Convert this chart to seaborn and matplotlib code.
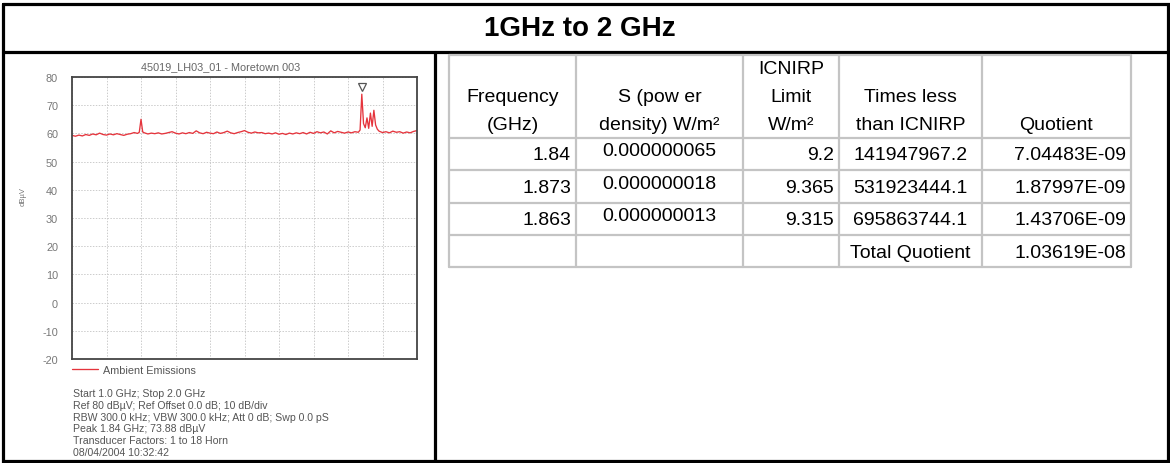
import matplotlib
matplotlib.use("Agg")
import matplotlib.pyplot as plt
import matplotlib.transforms as mtransforms
import pandas as pd
import seaborn as sns

# ---------------- data ----------------
page_title = "1GHz to 2 GHz"
chart_title = "45019_LH03_01 - Moretown 003"
series_name = "Ambient Emissions"
y_label = "dBµV"

freq_ghz = [1.00, 1.01, 1.02, 1.03, 1.04, 1.05, 1.06, 1.07, 1.08, 1.09,
            1.10, 1.11, 1.12, 1.13, 1.14, 1.15, 1.16, 1.17, 1.18, 1.19,
            1.195, 1.20, 1.205, 1.21, 1.22, 1.23, 1.24, 1.25, 1.26, 1.27,
            1.28, 1.29, 1.30, 1.31, 1.32, 1.33, 1.34, 1.35, 1.36, 1.37,
            1.38, 1.39, 1.40, 1.41, 1.42, 1.43, 1.44, 1.45, 1.46, 1.47,
            1.48, 1.49, 1.50, 1.51, 1.52, 1.53, 1.54, 1.55, 1.56, 1.57,
            1.58, 1.59, 1.60, 1.61, 1.62, 1.63, 1.64, 1.65, 1.66, 1.67,
            1.68, 1.69, 1.70, 1.71, 1.72, 1.73, 1.74, 1.75, 1.76, 1.77,
            1.78, 1.79, 1.80, 1.81, 1.82, 1.83, 1.835, 1.84, 1.845, 1.85,
            1.855, 1.86, 1.865, 1.87, 1.875, 1.88, 1.885, 1.89, 1.90, 1.91,
            1.92, 1.93, 1.94, 1.95, 1.96, 1.97, 1.98, 1.99, 2.00]
level_dbuv = [59.3, 59.0, 59.4, 59.1, 59.6, 59.3, 59.8, 59.5, 60.1, 59.6,
              59.4, 59.8, 59.5, 59.9, 59.6, 59.3, 59.7, 59.9, 60.3, 60.0,
              60.4, 65.0, 60.5, 60.2, 59.8, 60.1, 59.9, 60.2, 59.8, 60.0,
              60.3, 60.6, 60.1, 59.8, 60.2, 59.9, 60.3, 60.0, 60.9, 60.2,
              59.9, 60.4, 60.1, 59.9, 60.5, 60.0, 60.3, 60.8, 60.2, 59.9,
              60.3, 60.6, 61.0, 60.4, 60.1, 60.5, 60.2, 60.3, 59.9, 60.1,
              59.8, 60.2, 59.7, 60.0, 59.6, 60.1, 59.8, 60.2, 59.9, 60.3,
              59.8, 60.4, 60.0, 60.6, 60.2, 60.5, 59.8, 60.9, 60.2, 60.7,
              60.4, 60.1, 60.5, 60.2, 60.6, 60.4, 61.2, 73.9, 63.5, 62.0,
              65.5, 61.8, 67.2, 62.5, 68.2, 63.0, 61.5, 60.8, 60.3, 60.6,
              60.2, 60.8, 60.4, 60.6, 60.1, 60.5, 60.2, 60.7, 61.0]
peak_freq = 1.84
peak_level = 73.88
x_ticks = [1.0, 1.1, 1.2, 1.3, 1.4, 1.5, 1.6, 1.7, 1.8, 1.9, 2.0]
y_ticks = [-20, -10, 0, 10, 20, 30, 40, 50, 60, 70, 80]
info_lines = ["Start 1.0 GHz; Stop 2.0 GHz",
              "Ref 80 dBµV; Ref Offset 0.0 dB; 10 dB/div",
              "RBW 300.0 kHz; VBW 300.0 kHz; Att 0 dB; Swp 0.0 pS",
              "Peak 1.84 GHz; 73.88 dBµV",
              "Transducer Factors: 1 to 18 Horn",
              "08/04/2004 10:32:42"]

header_lines = [["Frequency", "(GHz)"],
                ["S (pow er", "density) W/m²"],
                ["ICNIRP", "Limit", "W/m²"],
                ["Times less", "than ICNIRP"],
                ["Quotient"]]
col_frequency = ["1.84", "1.873", "1.863", ""]
col_power = ["0.000000065", "0.000000018", "0.000000013", ""]
col_limit = ["9.2", "9.365", "9.315", ""]
col_times = ["141947967.2", "531923444.1", "695863744.1", "Total Quotient"]
col_quotient = ["7.04483E-09", "1.87997E-09", "1.43706E-09", "1.03619E-08"]

# ---------------- style ----------------
sns.set_style("white")
plt.rcParams["font.family"] = ["Liberation Sans", "DejaVu Sans"]

W, H = 1170, 464
fig = plt.figure(figsize=(W / 100, H / 100), dpi=100)
fig.patch.set_facecolor("white")


def fx(px):
    return px / W


def fy(py):
    return 1 - py / H


# ---------------- spectrum chart ----------------
ax_l, ax_r, ax_t, ax_b = 72, 417, 78, 360
ax = fig.add_axes([fx(ax_l), fy(ax_b), (ax_r - ax_l) / W, (ax_b - ax_t) / H])
df = pd.DataFrame({"freq": freq_ghz, "level": level_dbuv})
sns.lineplot(data=df, x="freq", y="level", color="#e5343c", linewidth=0.95,
             label=series_name, ax=ax)
marker_tr = mtransforms.offset_copy(ax.transData, fig=fig, x=0, y=7, units="dots")
ax.plot([peak_freq], [peak_level], marker="v", markersize=5.5,
        markerfacecolor="white", markeredgecolor="#555555",
        markeredgewidth=0.9, linestyle="none", transform=marker_tr)

ax.set_xlim(x_ticks[0], x_ticks[-1])
ax.set_ylim(y_ticks[0], y_ticks[-1])
ax.set_xticks(x_ticks)
ax.set_xticklabels([])
ax.set_yticks(y_ticks)
ax.set_yticklabels([str(v) for v in y_ticks], fontsize=7.8, color="#777777")
ax.tick_params(axis="both", length=0, pad=10)
ax.grid(True, linestyle=(0, (1.5, 1.5)), color="#cccccc", linewidth=0.7)
ax.set_xlabel("")
ax.set_ylabel(y_label, fontsize=5.5, color="#777777")
ax.yaxis.set_label_coords(-45 / (ax_r - ax_l), (ax_b - 197) / (ax_b - ax_t))
for sp in ax.spines.values():
    sp.set_color("#444444")
    sp.set_linewidth(1.3)
leg = ax.legend(loc="center left", bbox_to_anchor=(0, -11 / (ax_b - ax_t)),
                frameon=False, fontsize=7.8, borderpad=0, borderaxespad=0,
                handlelength=2.4, handletextpad=0.5)
for t in leg.get_texts():
    t.set_color("#555555")

# ---------------- overlay (borders, texts, table) ----------------
ov = fig.add_axes([0, 0, 1, 1], zorder=5)
ov.set_xlim(0, W)
ov.set_ylim(H, 0)
ov.axis("off")
ov.patch.set_visible(False)

# chart title and info text
ov.text(221, 67, chart_title, ha="center", va="center", fontsize=7.8, color="#666666")
for i, line in enumerate(info_lines):
    ov.text(73, 394 + i * 11.8, line, ha="left", va="center", fontsize=7.6,
            color="#555555")

# outer frame
bl, br, bt, bb = 3, 1168, 5, 462
blw = 2.3
ov.plot([bl, br, br, bl, bl], [bt, bt, bb, bb, bt], color="black", lw=blw,
        solid_joinstyle="miter")
ov.plot([bl, br], [53, 53], color="black", lw=blw)
ov.plot([435, 435], [53, bb], color="black", lw=blw)
ov.text(580, 29, page_title, ha="center", va="center",
        fontsize=20, fontweight="bold", color="black")

# table
col_x = [449, 576, 743, 839, 982, 1131]
row_y = [56, 139, 171, 204, 236, 268]
grid_c = "#c4c4c4"
for x in col_x:
    ov.plot([x, x], [row_y[0], row_y[-1]], color=grid_c, lw=1.6)
for y in row_y:
    ov.plot([col_x[0], col_x[-1]], [y, y], color=grid_c, lw=1.6)

tfs = 14
for c, lines in enumerate(header_lines):
    cx = (col_x[c] + col_x[c + 1]) / 2
    n = len(lines)
    for j, ln in enumerate(lines):
        ov.text(cx, 125 - (n - 1 - j) * 28, ln, ha="center", va="center",
                fontsize=tfs, color="black")

columns = [col_frequency, col_power, col_limit, col_times, col_quotient]
aligns = ["right", "center", "right", "center", "right"]
voffs = [1, -3, 1, 1, 1]
for c, (vals, al, vo) in enumerate(zip(columns, aligns, voffs)):
    for r, v in enumerate(vals):
        if not v:
            continue
        cy = (row_y[r + 1] + row_y[r + 2]) / 2 + vo
        if al == "right":
            x = col_x[c + 1] - 5
        else:
            x = (col_x[c] + col_x[c + 1]) / 2
        ov.text(x, cy, v, ha=al, va="center", fontsize=tfs, color="black")

fig.savefig("out.png", dpi=100, facecolor="white")
